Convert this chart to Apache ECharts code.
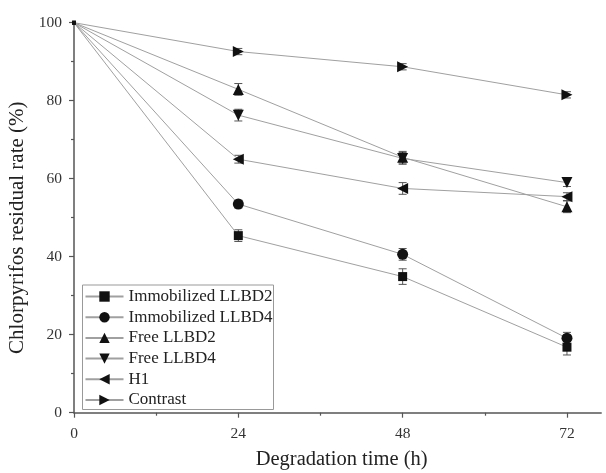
<!DOCTYPE html>
<html>
<head>
<meta charset="utf-8">
<script src="https://cdn.jsdelivr.net/npm/echarts@6/dist/echarts.min.js"></script>
<style>html,body{margin:0;padding:0;background:#fff;}#c{width:606px;height:473px;}</style>
</head>
<body>
<div id="c"></div>
<script>
var times = [0, 24, 48, 72];
var xTickLabels = [0, 24, 48, 72];
var xMinorTicks = [12, 36, 60];
var seriesNames = ['Immobilized LLBD2', 'Immobilized LLBD4', 'Free LLBD2', 'Free LLBD4', 'H1', 'Contrast'];
var immobilizedLLBD2 = [100, 45.4, 34.9, 16.8];
var immobilizedLLBD4 = [100, 53.5, 40.6, 19.1];
var freeLLBD2 = [100, 82.9, 65.5, 52.8];
var freeLLBD4 = [100, 76.3, 65.2, 59.0];
var h1 = [100, 65.0, 57.5, 55.4];
var contrast = [100, 92.6, 88.7, 81.5];
var errImmobilizedLLBD2 = [0, 1.5, 2.0, 2.0];
var errImmobilizedLLBD4 = [0, 1.0, 1.5, 1.5];
var errFreeLLBD2 = [0, 1.5, 1.5, 1.5];
var errFreeLLBD4 = [0, 1.5, 1.5, 1.0];
var errH1 = [0, 1.0, 1.5, 1.0];
var errContrast = [0, 0.8, 0.8, 0.8];

var allValues = [immobilizedLLBD2, immobilizedLLBD4, freeLLBD2, freeLLBD4, h1, contrast];
var allErrors = [errImmobilizedLLBD2, errImmobilizedLLBD4, errFreeLLBD2, errFreeLLBD4, errH1, errContrast];
var symbols = ['rect', 'circle', 'triangle', 'triangle', 'triangle', 'triangle'];
var rotations = [0, 0, 0, 180, 90, -90];

var FONT = '"Liberation Serif", "DejaVu Serif", serif';
var chart = echarts.init(document.getElementById('c'), null, {renderer: 'canvas'});

var series = [];
allValues.forEach(function (vals, si) {
  var errData = [];
  for (var i = 0; i < times.length; i++) {
    if (allErrors[si][i] > 0) errData.push([times[i], vals[i] - allErrors[si][i], vals[i] + allErrors[si][i]]);
  }
  series.push({
    type: 'custom',
    silent: true,
    xAxisIndex: 0, yAxisIndex: 0,
    data: errData,
    z: 1,
    renderItem: function (params, api) {
      var lo = api.coord([api.value(0), api.value(1)]);
      var hi = api.coord([api.value(0), api.value(2)]);
      var w = 4;
      var st = {stroke: '#555', lineWidth: 1};
      return {type: 'group', children: [
        {type: 'line', shape: {x1: lo[0], y1: lo[1], x2: hi[0], y2: hi[1]}, style: st},
        {type: 'line', shape: {x1: lo[0] - w, y1: lo[1], x2: lo[0] + w, y2: lo[1]}, style: st},
        {type: 'line', shape: {x1: hi[0] - w, y1: hi[1], x2: hi[0] + w, y2: hi[1]}, style: st}
      ]};
    }
  });
});
allValues.forEach(function (vals, si) {
  series.push({
    name: seriesNames[si],
    type: 'line',
    xAxisIndex: 0, yAxisIndex: 0,
    data: times.map(function (t, i) { return [t, vals[i]]; }),
    symbol: symbols[si],
    symbolRotate: rotations[si],
    symbolSize: function (v, p) { return p.dataIndex === 0 ? 4 : (symbols[si] === 'rect' ? 9 : 11); },
    showAllSymbol: true,
    clip: false,
    z: 3,
    lineStyle: {color: '#a0a0a0', width: 1},
    itemStyle: {color: '#111', borderWidth: 0},
    emphasis: {disabled: true},
    animation: false
  });
});

chart.setOption({
  animation: false,
  backgroundColor: '#fff',
  grid: {left: 74, top: 22.7, right: 4.8, bottom: 60.3, containLabel: false, outerBoundsMode: 'none'},
  legend: {
    orient: 'vertical',
    left: 82.5, top: 285,
    data: seriesNames,
    itemWidth: 38, itemHeight: 13,
    itemGap: 3.7,
    padding: [3, 1, 1, 2],
    borderColor: '#999', borderWidth: 1,
    textStyle: {fontFamily: FONT, fontSize: 17, color: '#222', lineHeight: 17}
  },
  xAxis: [{
    type: 'value', min: 0, max: 77,
    name: 'Degradation time (h)', nameLocation: 'middle', nameGap: 36,
    nameTextStyle: {fontFamily: FONT, fontSize: 20.5, color: '#222', padding: [0, 0, 0, 8]},
    axisLine: {show: true, onZero: false, lineStyle: {color: '#555', width: 1.5}},
    axisTick: {show: true, inside: false, length: 5, customValues: xTickLabels, lineStyle: {color: '#555', width: 1.2}},
    axisLabel: {customValues: xTickLabels, fontFamily: FONT, fontSize: 15.5, color: '#333', margin: 13},
    splitLine: {show: false}
  }, {
    type: 'value', min: 0, max: 77, position: 'bottom',
    axisLine: {show: false},
    axisTick: {show: true, inside: false, length: 3, customValues: xMinorTicks, lineStyle: {color: '#555', width: 1.2}},
    axisLabel: {show: false},
    splitLine: {show: false}
  }],
  yAxis: [{
    type: 'value', min: 0, max: 100, interval: 20,
    name: 'Chlorpyrifos residual rate (%)', nameLocation: 'middle', nameGap: 45,
    nameTextStyle: {fontFamily: FONT, fontSize: 21, color: '#222', padding: [0, 0, 0, -20]},
    axisLine: {show: true, lineStyle: {color: '#555', width: 1.5}},
    axisTick: {show: true, inside: false, length: 5, lineStyle: {color: '#555', width: 1.2}},
    minorTick: {show: true, splitNumber: 2, length: 3, lineStyle: {color: '#555', width: 1.2}},
    axisLabel: {fontFamily: FONT, fontSize: 15.5, color: '#333', margin: 12},
    splitLine: {show: false}
  }],
  series: series
});
</script>
</body>
</html>
